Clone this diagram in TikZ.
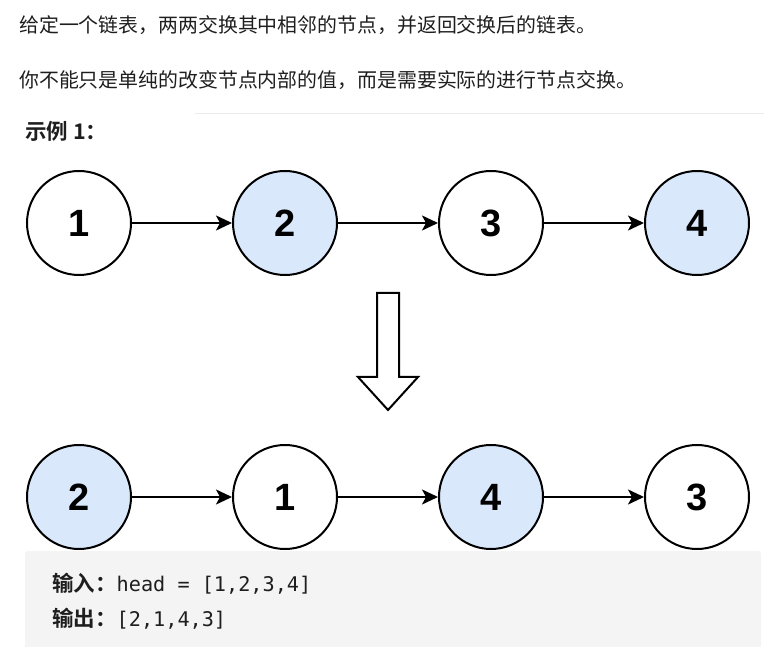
\documentclass[tikz,border=0pt]{standalone}
\usepackage{fontspec}
\setmainfont{Liberation Sans}
\setmonofont{DejaVu Sans Mono}
\newfontfamily\cjkfont{Noto Sans CJK SC}[BoldFont={Noto Sans CJK SC Bold}]
\usepackage{xcolor}
\usetikzlibrary{arrows.meta,positioning}
\definecolor{NodeBlue}{HTML}{DAE8FC}
\definecolor{BoxGray}{HTML}{F4F4F4}
\definecolor{RuleGray}{HTML}{EBEBEB}
\definecolor{TextDark}{HTML}{1E1E1E}

\begin{document}
\begin{tikzpicture}[
  x=1pt, y=-1pt,
  node distance=100pt,
  listnode/.style={
    circle,
    draw=black,
    line width=2pt,
    fill=white,
    minimum size=104pt,
    inner sep=0pt,
    font=\fontsize{38}{38}\selectfont\bfseries
  },
  swapnode/.style={listnode, fill=NodeBlue},
  prose/.style={anchor=base west, inner sep=0pt, text=TextDark, font=\cjkfont\fontsize{19.9}{20}\selectfont},
  codeline/.style={anchor=base west, inner sep=0pt, text=TextDark, font=\fontsize{20.2}{20}\selectfont},
  link/.style={-{Stealth[length=16pt,width=15pt,inset=4pt]}, line width=2pt, draw=black}
]
\useasboundingbox (0,0) rectangle (764,647);
\node[prose] (intro) at (19,32.5) {给定一个链表，两两交换其中相邻的节点，并返回交换后的链表。};
\node[prose] (note) at (19,87.5) {你不能只是单纯的改变节点内部的值，而是需要实际的进行节点交换。};
\draw[RuleGray, line width=1pt] (195,114) -- (764,114);
\node[prose, font=\cjkfont\fontsize{21.5}{22}\selectfont\bfseries] (example) at (25,139.5) {示例 1：};

\node[listnode] (a1) at (79,223) {1};
\node[swapnode, right=of a1] (a2) {2};
\node[listnode, right=of a2] (a3) {3};
\node[swapnode, right=of a3] (a4) {4};
\draw[link] (a1) -- (a2);
\draw[link] (a2) -- (a3);
\draw[link] (a3) -- (a4);

\draw[line width=2pt, fill=white, line join=miter]
  (377,293) -- (399,293) -- (399,377) -- (418,377) -- (388,410)
  -- (358,377) -- (377,377) -- cycle;

\fill[BoxGray] (25,647) [rounded corners=3pt] -- (25,551) -- (761,551) [sharp corners] -- (761,647) -- cycle;

\node[swapnode] (b1) at (79,497) {2};
\node[listnode, right=of b1] (b2) {1};
\node[swapnode, right=of b2] (b3) {4};
\node[listnode, right=of b3] (b4) {3};
\draw[link] (b1) -- (b2);
\draw[link] (b2) -- (b3);
\draw[link] (b3) -- (b4);

\node[codeline] (input) at (52,591) {{\cjkfont\bfseries\fontsize{21.5}{22}\selectfont 输入：}\ttfamily head = [1,2,3,4]};
\node[codeline] (output) at (52,626) {{\cjkfont\bfseries\fontsize{21.5}{22}\selectfont 输出：}\ttfamily [2,1,4,3]};
\end{tikzpicture}
\end{document}
